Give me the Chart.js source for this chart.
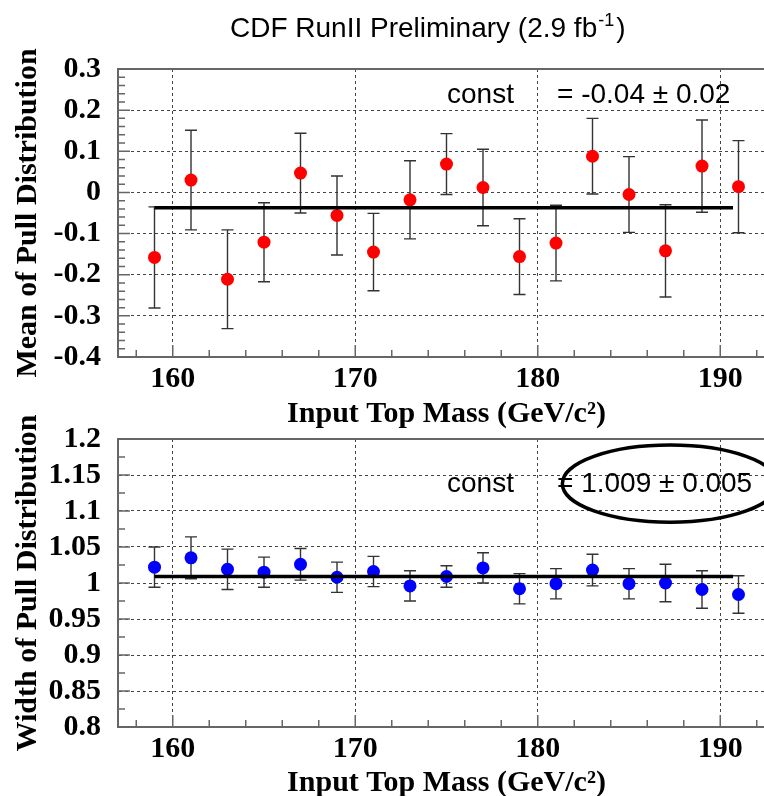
<!DOCTYPE html>
<html>
<head>
<meta charset="utf-8">
<script src="https://cdn.jsdelivr.net/npm/chart.js@4"></script>
<style>
html,body{margin:0;padding:0;background:#fff;overflow:hidden}
#wrap{position:relative;width:764px;height:796px;overflow:hidden;background:#fff}
#meanChart{position:absolute;left:0;top:0}
#widthChart{position:absolute;left:0;top:400px}
</style>
</head>
<body>
<div id="wrap">
<canvas id="meanChart" width="790" height="440"></canvas>
<canvas id="widthChart" width="790" height="408"></canvas>
</div>
<script>
// input top mass points (GeV/c^2)
const masses=[159,161,163,165,167,169,171,173,175,177,179,181,183,185,187,189,191]

// mean of pull distribution
const meanValues=[-0.158,0.030,-0.211,-0.121,0.047,-0.056,-0.145,-0.018,0.069,0.012,-0.156,-0.123,0.088,-0.005,-0.142,0.064,0.014]
const meanErrors=[0.123,0.121,0.120,0.096,0.097,0.096,0.094,0.095,0.074,0.093,0.092,0.092,0.092,0.092,0.112,0.112,0.112]

// width of pull distribution
const widthValues=[1.022,1.035,1.019,1.015,1.026,1.008,1.016,0.996,1.009,1.021,0.992,0.999,1.018,0.999,1.000,0.991,0.984]
const widthErrors=[0.028,0.029,0.028,0.021,0.022,0.021,0.021,0.021,0.015,0.021,0.021,0.021,0.022,0.021,0.026,0.026,0.026]

// constant fits
const fitRange=[159,190.7]
const meanFit=-0.037
const widthFit=1.009
const meanFitText="= -0.04 \u00b1 0.02"
const widthFitText="= 1.009 \u00b1 0.005"

// axes
const xRange=[157,193]
const xTicks=[160,170,180,190]
const meanRange=[-0.4,0.3]
const meanTicks=[-0.4,-0.3,-0.2,-0.1,0,0.1,0.2,0.3]
const widthRange=[0.8,1.2]
const widthTicks=[0.8,0.85,0.9,0.95,1,1.05,1.1,1.15,1.2]

const xTitle="Input Top Mass (GeV/c\u00b2)"
const serif="'Liberation Serif','Times New Roman',serif"
const sans="'Liberation Sans',Arial,sans-serif"
const frameColor="#666"

function errorBarPlugin(values,errors){
return {
id:"errorBars",
beforeDatasetsDraw(chart){
const {ctx,scales:{x,y}}=chart
ctx.save()
ctx.strokeStyle="#333"
ctx.lineWidth=1.4
masses.forEach((m,i)=>{
const px=x.getPixelForValue(m)
const top=y.getPixelForValue(values[i]+errors[i])
const bot=y.getPixelForValue(values[i]-errors[i])
ctx.beginPath()
ctx.moveTo(px,top);ctx.lineTo(px,bot)
ctx.moveTo(px-6,top);ctx.lineTo(px+6,top)
ctx.moveTo(px-6,bot);ctx.lineTo(px+6,bot)
ctx.stroke()
})
ctx.restore()
}
}
}

function framePlugin(yTickVals,minorY){
return {
id:"frame",
afterDraw(chart){
const {ctx,chartArea:a,scales:{x,y}}=chart
ctx.save()
ctx.strokeStyle=frameColor
ctx.lineWidth=2
ctx.strokeRect(a.left,a.top,a.right-a.left,a.bottom-a.top)
ctx.lineWidth=1.5
ctx.beginPath()
for(let v=158;v<=x.max+1e-9;v+=2){
const px=x.getPixelForValue(v)
const major=xTicks.some(t=>Math.abs(t-v)<1e-6)
ctx.moveTo(px,a.bottom);ctx.lineTo(px,a.bottom-(major?12:7))
}
const n=Math.round((y.max-y.min)/minorY)
for(let k=0;k<=n;k++){
const v=y.min+k*minorY
const py=y.getPixelForValue(v)
const major=yTickVals.some(t=>Math.abs(t-v)<1e-6)
ctx.moveTo(a.left,py);ctx.lineTo(a.left+(major?12:7),py)
}
ctx.stroke()
ctx.restore()
}
}
}

function statsPlugin(text,baseY,ellipse){
return {
id:"stats",
afterDraw(chart){
const {ctx,chartArea:a,scales:{x,y}}=chart
ctx.save()
ctx.fillStyle="#000"
ctx.font="28px "+sans
ctx.textBaseline="alphabetic"
ctx.textAlign="left"
ctx.fillText("const",a.left+329,a.top+baseY)
ctx.fillText(text,a.left+439,a.top+baseY)
if(ellipse){
ctx.strokeStyle="#000"
ctx.lineWidth=3.5
ctx.beginPath()
const cx=x.getPixelForValue(ellipse.x),cy=y.getPixelForValue(ellipse.y)
const rx=x.getPixelForValue(ellipse.x+ellipse.rx)-cx
const ry=cy-y.getPixelForValue(ellipse.y+ellipse.ry)
ctx.ellipse(cx,cy,rx,ry,0,0,Math.PI*2)
ctx.stroke()
}
ctx.restore()
}
}
}

const mainTitle={
id:"mainTitle",
afterDraw(chart){
const ctx=chart.ctx
ctx.save()
ctx.fillStyle="#000"
ctx.textBaseline="alphabetic"
ctx.textAlign="left"
ctx.font="28px "+sans
let t="CDF RunII Preliminary (2.9 fb"
ctx.fillText(t,230,37)
let w=ctx.measureText(t).width
ctx.font="18px "+sans
ctx.fillText("-1",230+w+1,26)
let w2=ctx.measureText("-1").width
ctx.font="28px "+sans
ctx.fillText(")",230+w+w2+3,37)
ctx.restore()
}
}

function makeChart(id,o){
return new Chart(document.getElementById(id),{
type:"scatter",
data:{
datasets:[
{
type:"line",
data:fitRange.map(m=>({x:m,y:o.fit})),
borderColor:"#000",
borderWidth:3.5,
pointRadius:0,
order:0
},
{
data:masses.map((m,i)=>({x:m,y:o.values[i]})),
backgroundColor:o.color,
borderWidth:0,
pointRadius:6.5,
order:1
}
]
},
options:{
responsive:false,
animation:false,
layout:{padding:{top:o.padTop,right:15,left:0,bottom:0}},
plugins:{legend:{display:false},tooltip:{enabled:false}},
scales:{
x:{
type:"linear",
min:xRange[0],max:xRange[1],
afterBuildTicks:s=>{s.ticks=xTicks.map(v=>({value:v}))},
afterFit:s=>{s.height=o.xHeight;s.paddingLeft=0;s.paddingRight=0},
grid:{drawTicks:false,color:"#444",lineWidth:1},
border:{color:frameColor,width:2,dash:[3,3]},
ticks:{padding:4,autoSkip:false,color:"#000",font:{family:serif,size:30,weight:"bold"},maxRotation:0},
title:{display:true,text:xTitle,color:"#000",font:{family:serif,size:30,weight:"bold"},padding:{bottom:o.xTitlePad}}
},
y:{
min:o.range[0],max:o.range[1],
afterBuildTicks:s=>{s.ticks=o.ticks.map(v=>({value:v}))},
afterFit:s=>{s.width=118;s.paddingTop=0;s.paddingBottom=0},
grid:{drawTicks:false,color:"#444",lineWidth:1},
border:{color:frameColor,width:2,dash:[3,3]},
ticks:{padding:17,autoSkip:false,color:"#000",font:{family:serif,size:30,weight:"bold"},callback:v=>String(+Number(v).toFixed(3))},
title:{display:true,text:o.yTitle,color:"#000",font:{family:serif,size:30,weight:"bold"},padding:{top:10}}
}
}
},
plugins:o.plugins
})
}

makeChart("meanChart",{
values:meanValues,fit:meanFit,color:"#ff0000",
range:meanRange,ticks:meanTicks,padTop:69,xHeight:83,xTitlePad:8,
yTitle:"Mean of Pull Distribution",
plugins:[errorBarPlugin(meanValues,meanErrors),framePlugin(meanTicks,0.02),statsPlugin(meanFitText,34,null),mainTitle]
})

makeChart("widthChart",{
values:widthValues,fit:widthFit,color:"#0000ff",
range:widthRange,ticks:widthTicks,padTop:39,xHeight:81,xTitlePad:7,
yTitle:"Width of Pull Distribution",
plugins:[errorBarPlugin(widthValues,widthErrors),framePlugin(widthTicks,0.025),statsPlugin(widthFitText,53,{x:187.25,y:1.138,rx:5.9,ry:0.0535})]
})
</script>
</body>
</html>
